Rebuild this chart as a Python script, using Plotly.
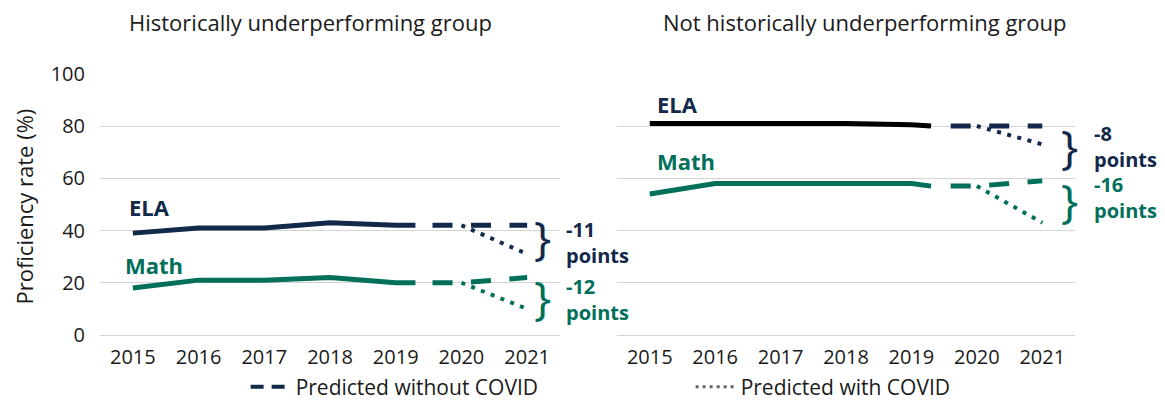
import plotly.graph_objects as go

NAVY = "#12294a"
TEAL = "#00705a"
FONT = "Open Sans"

years = [2015, 2016, 2017, 2018, 2019, 2019.3]

# historically underperforming group
left_ela = [39, 41, 41, 43, 42, 42]
left_math = [18, 21, 21, 22, 20, 20]
left_pred_x = [2019.56, 2020, 2021]
left_ela_pred = [42, 42, 42]
left_math_pred = [20, 20, 22]
covid_x = [2020, 2021]
left_ela_covid = [42, 31]
left_math_covid = [20, 10]

# not historically underperforming group
right_ela = [81, 81, 81, 81, 80.5, 80]
right_math = [54, 58, 58, 58, 58, 57]
right_pred_x = [2019.6, 2020, 2021]
right_ela_pred = [80, 80, 80]
right_math_pred = [57, 57, 59]
right_ela_covid = [80, 73]
right_math_covid = [57, 43]

titles = ["Historically underperforming group", "Not historically underperforming group"]
gaps = [("-11<br>points", "-12<br>points"), ("-8<br>points", "-16<br>points")]

DASH = "20px,18.5px"
DOT = "4px,6.5px"

fig = go.Figure()

def add_panel(xa, ya, ela, math, ela_pred, math_pred, ela_cov, math_cov, pred_x, ela_solid_color):
    fig.add_trace(go.Scatter(x=years, y=ela, mode="lines", line=dict(color=ela_solid_color, width=5),
                             xaxis=xa, yaxis=ya, showlegend=False))
    fig.add_trace(go.Scatter(x=years, y=math, mode="lines", line=dict(color=TEAL, width=5),
                             xaxis=xa, yaxis=ya, showlegend=False))
    fig.add_trace(go.Scatter(x=pred_x, y=ela_pred, mode="lines", line=dict(color=NAVY, width=5, dash=DASH),
                             xaxis=xa, yaxis=ya, showlegend=False))
    fig.add_trace(go.Scatter(x=pred_x, y=math_pred, mode="lines", line=dict(color=TEAL, width=5, dash=DASH),
                             xaxis=xa, yaxis=ya, showlegend=False))
    fig.add_trace(go.Scatter(x=covid_x, y=ela_cov, mode="lines", line=dict(color=NAVY, width=4, dash=DOT),
                             xaxis=xa, yaxis=ya, showlegend=False))
    fig.add_trace(go.Scatter(x=covid_x, y=math_cov, mode="lines", line=dict(color=TEAL, width=4, dash=DOT),
                             xaxis=xa, yaxis=ya, showlegend=False))

add_panel("x", "y", left_ela, left_math, left_ela_pred, left_math_pred,
          left_ela_covid, left_math_covid, left_pred_x, NAVY)
add_panel("x2", "y2", right_ela, right_math, right_ela_pred, right_math_pred,
          right_ela_covid, right_math_covid, right_pred_x, "#000000")

# legend entries
fig.add_trace(go.Scatter(x=[None], y=[None], mode="lines", name="Predicted without COVID",
                         line=dict(color=NAVY, width=4, dash="13px,8px")))
fig.add_trace(go.Scatter(x=[None], y=[None], mode="lines", name="Predicted with COVID",
                         line=dict(color="#5b6670", width=3, dash="3px,4px")))

xaxis_style = dict(range=[2014.5, 2021.5], tickvals=[2015, 2016, 2017, 2018, 2019, 2020, 2021],
                   showgrid=False, zeroline=False, showline=False, ticks="", automargin=False,
                   tickfont=dict(family=FONT, size=20, color="#1a1a1a"), ticklabelstandoff=8)
yaxis_style = dict(range=[0, 100.3], tickvals=[0, 20, 40, 60, 80, 100], showgrid=True,
                   gridcolor="#d4d4d4", gridwidth=1, zeroline=True, zerolinecolor="#d4d4d4",
                   zerolinewidth=1, showline=False, ticks="", automargin=False)

# page body adds an 8px margin, so the figure is 8px smaller and shifted up/left
fig.update_layout(
    width=1157, height=397,
    margin=dict(l=92, r=90, t=65, b=70),
    paper_bgcolor="white", plot_bgcolor="white",
    font=dict(family=FONT, color="#1a1a1a"),
    xaxis=dict(domain=[0, 0.4718], **xaxis_style),
    xaxis2=dict(domain=[0.5303, 1.0], anchor="y2", **xaxis_style),
    yaxis=dict(tickfont=dict(family=FONT, size=20, color="#1a1a1a"), ticklabelstandoff=14,
               **yaxis_style),
    yaxis2=dict(anchor="x2", showticklabels=False, **yaxis_style),
    legend=dict(orientation="h", xref="container", yref="container", x=0.59, xanchor="center",
                y=0.045, yanchor="middle",
                font=dict(family=FONT, size=21, color="#1a1a1a"), entrywidth=390,
                itemwidth=40, bgcolor="rgba(0,0,0,0)"),
)

# y-axis title
fig.add_annotation(text="Proficiency rate (%)", xref="paper", yref="paper", x=-0.078, y=0.49,
                   xanchor="center", yanchor="middle", textangle=-90, showarrow=False,
                   font=dict(family=FONT, size=22, color="#1a1a1a"))

# panel titles
for xr, xv, t in [("x domain", 0.457, titles[0]), ("x2 domain", 0.541, titles[1])]:
    fig.add_annotation(text=t, xref=xr, yref="paper", x=xv, y=1, yanchor="middle", yshift=51,
                       showarrow=False, font=dict(family=FONT, size=22, color="#1a1a1a"))

# series labels
labels = [("x", "y", "ELA", 2014.91, 48.9, NAVY), ("x", "y", "Math", 2014.85, 26.7, TEAL),
          ("x2", "y2", "ELA", 2015.08, 88.5, NAVY), ("x2", "y2", "Math", 2015.08, 66.8, TEAL)]
for xr, yr, t, xv, yv, c in labels:
    fig.add_annotation(text="<b>%s</b>" % t, xref=xr, yref=yr, x=xv, y=yv, xanchor="left",
                       yanchor="middle", showarrow=False, font=dict(family=FONT, size=22, color=c))

# braces and gap labels (x in axis-domain fractions so they can sit outside the plot)
brace_pos = [("x domain", "y", 0.985, 37.4, 14.5, 1.008, 35.5, 13.7),
             ("x2 domain", "y2", 1.01, 72.5, 51.5, 1.037, 72.0, 52.7)]
for (xr, yr, bx, by1, by2, lx, ly1, ly2), (g1, g2) in zip(brace_pos, gaps):
    for by, c in [(by1, NAVY), (by2, TEAL)]:
        fig.add_annotation(text="}", xref=xr, yref=yr, x=bx, y=by, showarrow=False,
                           font=dict(family=FONT, size=46, color=c))
    for ly, g, c in [(ly1, g1, NAVY), (ly2, g2, TEAL)]:
        fig.add_annotation(text="<b>%s</b>" % g, xref=xr, yref=yr, x=lx, y=ly, xanchor="left",
                           yanchor="middle", align="left", showarrow=False,
                           font=dict(family=FONT, size=20, color=c))

fig.write_html("out.html")
